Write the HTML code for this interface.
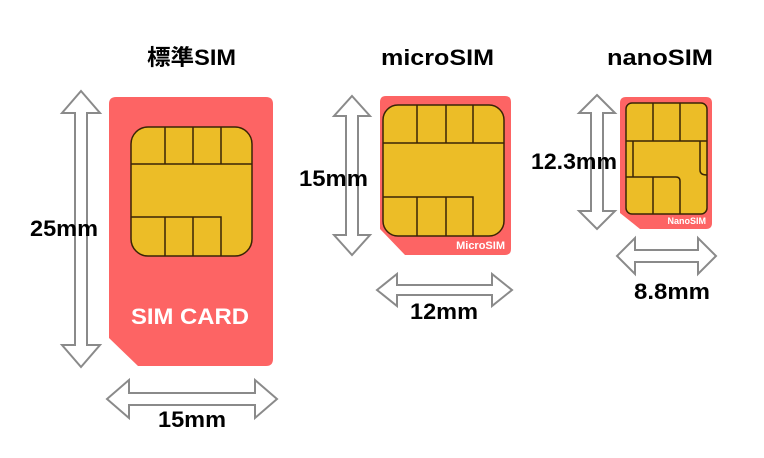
<!DOCTYPE html>
<html><head><meta charset="utf-8"><style>
html,body{margin:0;padding:0;background:#fff;width:764px;height:458px;overflow:hidden}
svg text{font-family:"Liberation Sans","Noto Sans CJK JP",sans-serif;font-weight:bold}
</style></head><body>
<svg width="764" height="458" viewBox="0 0 764 458" xmlns="http://www.w3.org/2000/svg">
<g fill="#fff" stroke="#8a8a8a" stroke-width="2" stroke-linejoin="miter">
<path d="M81 91 L100 113 L87 113 L87 345 L100 345 L81 367 L62 345 L75 345 L75 113 L62 113 Z"/>
<path d="M107 399 L129 380 L129 393 L255 393 L255 380 L277 399 L255 418 L255 405 L129 405 L129 418 Z"/>
<path d="M352 96 L370 116 L358 116 L358 235 L370 235 L352 255 L334 235 L346 235 L346 116 L334 116 Z"/>
<path d="M377 290 L397 274 L397 285 L492 285 L492 274 L512 290 L492 306 L492 295 L397 295 L397 306 Z"/>
<path d="M597 95 L615 113 L603 113 L603 211 L615 211 L597 229 L579 211 L591 211 L591 113 L579 113 Z"/>
<path d="M617 256 L635 238 L635 250 L698 250 L698 238 L716 256 L698 274 L698 262 L635 262 L635 274 Z"/>
</g>
<path d="M116 97 H266 Q273 97 273 104 V359 Q273 366 266 366 H138 L109 338 V104 Q109 97 116 97 Z" fill="#fd6464"/>
<path d="M386 96 H505 Q511 96 511 102 V249 Q511 255 505 255 H405 L380 229 V102 Q380 96 386 96 Z" fill="#fd6464"/>
<path d="M626 97 H706 Q712 97 712 103 V223 Q712 229 706 229 H640 L620 213 V103 Q620 97 626 97 Z" fill="#fd6464"/>
<g fill="#ecbd27" stroke="#3a2406" stroke-width="1.5">
<rect x="131" y="127" width="121" height="129" rx="17"/>
<rect x="383" y="105" width="121" height="131" rx="15"/>
<rect x="626" y="103" width="81" height="111" rx="6"/>
</g>
<g fill="none" stroke="#3a2406" stroke-width="1.5">
<path d="M131 164 H252 M165 127 V164 M193 127 V164 M221 127 V164 M131 217 H221 V256 M165 217 V256 M193 217 V256"/>
<path d="M383 143 H504 M417 105 V143 M446 105 V143 M473 105 V143 M383 197 H473 V236 M417 197 V236 M446 197 V236"/>
<path d="M626 141 H707 M653 103 V141 M680 103 V141 M633 141 V177 M626 177 H676 Q680 177 680 181 V214 M653 177 V214 M700 141 V170 Q700 175 707 175"/>
</g>
<text x="190" y="324" font-size="22" fill="#fff" text-anchor="middle" textLength="118" lengthAdjust="spacingAndGlyphs">SIM CARD</text>
<text x="505" y="249" font-size="11" fill="#fff" text-anchor="end">MicroSIM</text>
<text x="706" y="224" font-size="9" fill="#fff" text-anchor="end">NanoSIM</text>
<g font-size="22" fill="#000">
<text x="147" y="65" textLength="89" lengthAdjust="spacingAndGlyphs">標準SIM</text>
<text x="381" y="65" textLength="113" lengthAdjust="spacingAndGlyphs">microSIM</text>
<text x="607" y="65" textLength="106" lengthAdjust="spacingAndGlyphs">nanoSIM</text>
<text x="30" y="236" textLength="68" lengthAdjust="spacingAndGlyphs">25mm</text>
<text x="158" y="427" textLength="68" lengthAdjust="spacingAndGlyphs">15mm</text>
<text x="299" y="186" textLength="69" lengthAdjust="spacingAndGlyphs">15mm</text>
<text x="410" y="319" textLength="68" lengthAdjust="spacingAndGlyphs">12mm</text>
<text x="531" y="169" textLength="86" lengthAdjust="spacingAndGlyphs">12.3mm</text>
<text x="634" y="299" textLength="76" lengthAdjust="spacingAndGlyphs">8.8mm</text>
</g>
</svg>
</body></html>
